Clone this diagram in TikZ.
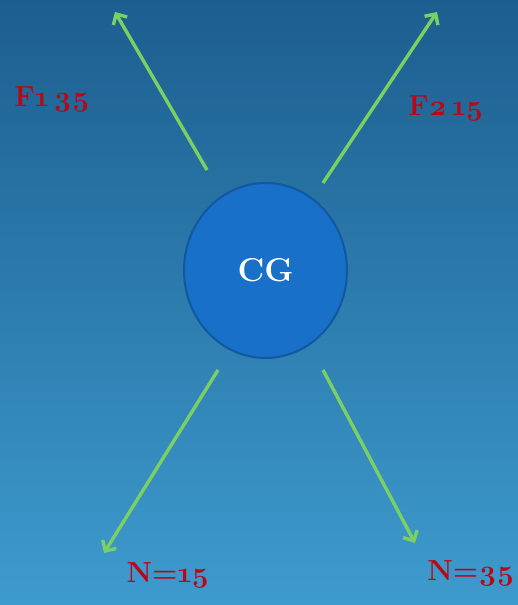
\documentclass[tikz,border=0pt]{standalone}
\usepackage{fontspec}
\usetikzlibrary{arrows.meta,shapes.geometric}
\newfontfamily\labfont[Numbers=OldStyle]{Latin Modern Roman}
\definecolor{bgtop}{RGB}{28,94,143}
\definecolor{bgbot}{RGB}{62,155,206}
\definecolor{cgfill}{RGB}{24,112,200}
\definecolor{cgline}{RGB}{16,88,160}
\definecolor{arrowgreen}{RGB}{122,208,98}
\definecolor{labred}{RGB}{184,8,20}
\tikzset{
  force/.style={draw=arrowgreen, line width=3.4pt, -{Straight Barb[length=8pt,width=16pt,line width=3.4pt]}},
  lab/.style={text=labred, font=\labfont\fontsize{29}{31}\selectfont\bfseries, inner sep=0pt},
}
\begin{document}
\begin{tikzpicture}[x=1pt,y=-1pt]
\useasboundingbox (0,0) rectangle (518,605);
\shade[top color=bgtop, bottom color=bgbot] (0,0) rectangle (518,605);
\node[ellipse, draw=cgline, line width=2pt, fill=cgfill, minimum width=163pt, minimum height=175pt, inner sep=0pt] (cg) at (265.5,270.5) {};
\node[text=white, font=\fontsize{33}{36}\selectfont\bfseries] (cgl) at (cg) {CG};
\coordinate (s1) at (207,170);
\coordinate (e1) at (115,12);
\coordinate (s2) at (323,183);
\coordinate (e2) at (437,12);
\coordinate (s3) at (218,370);
\coordinate (e3) at (104,553);
\coordinate (s4) at (323,370);
\coordinate (e4) at (415,543);
\draw[force] (s1) -- (e1);
\draw[force] (s2) -- (e2);
\draw[force] (s3) -- (e3);
\draw[force] (s4) -- (e4);
\node[lab] (f1) at (52,100) {F1\,35};
\node[lab] (f2) at (446,109) {F2\,15};
\node[lab] (n1) at (168,576) {N=15};
\node[lab] (n2) at (471,574) {N=35};
\end{tikzpicture}
\end{document}
